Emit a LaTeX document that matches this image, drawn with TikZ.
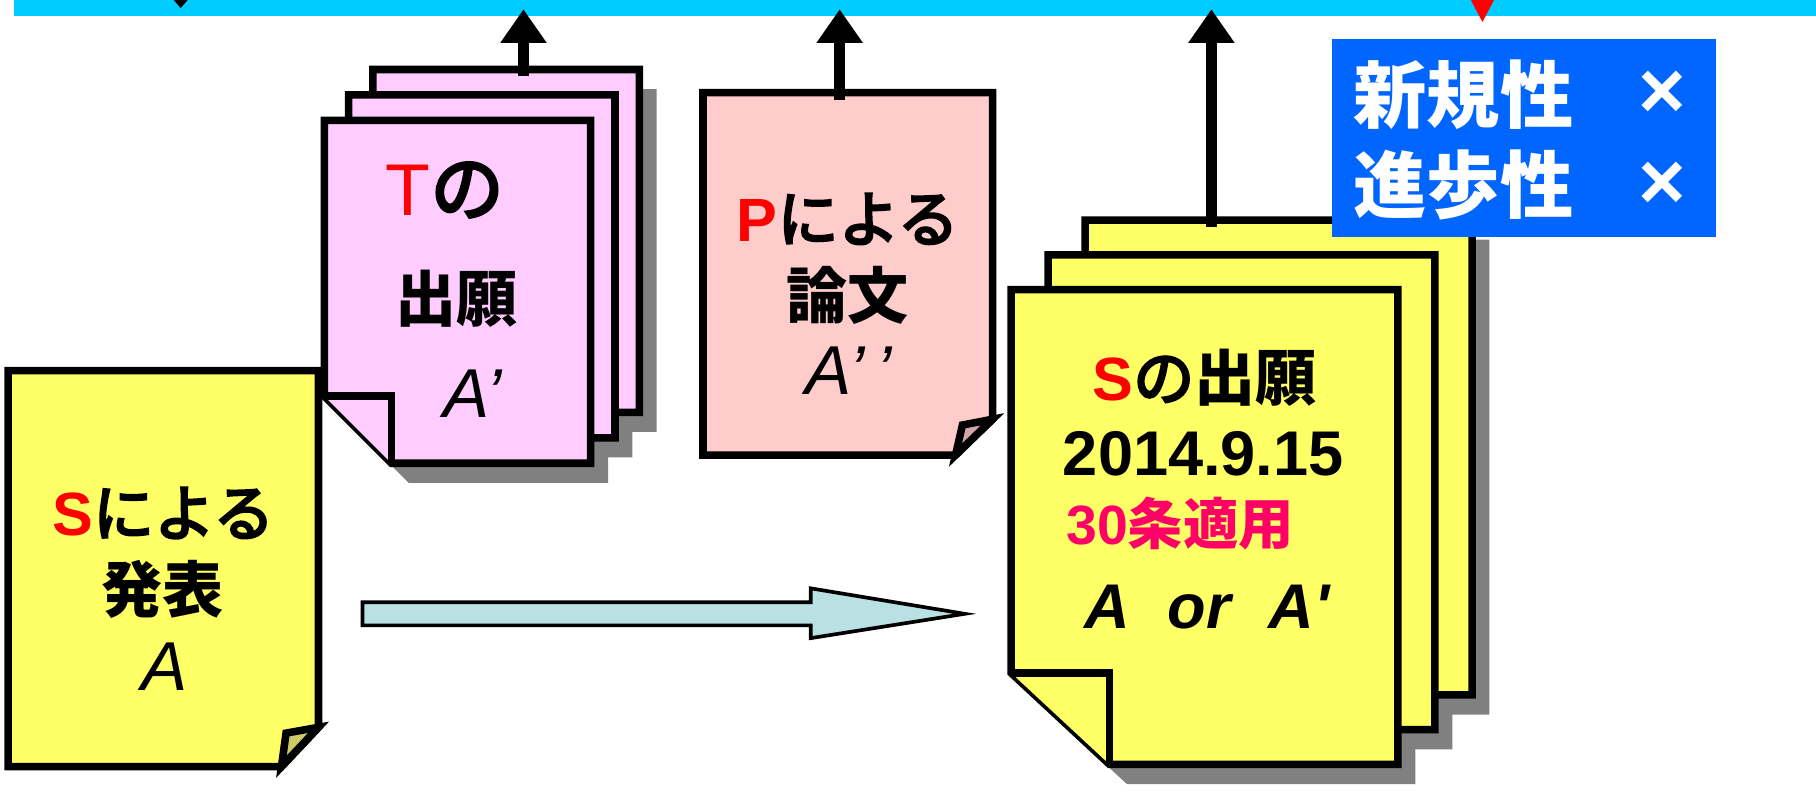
\documentclass[tikz,border=0pt]{standalone}
\usepackage{fontspec}
\setmainfont{Liberation Sans}
\newfontfamily\jp{Noto Sans CJK JP}
\newfontfamily\jpm{Noto Sans CJK JP}[FakeBold=4]
\usetikzlibrary{arrows.meta}
\definecolor{timecyan}{RGB}{0,204,255}
\definecolor{docyellow}{RGB}{255,255,102}
\definecolor{flapyellow}{RGB}{204,204,102}
\definecolor{tpink}{RGB}{255,204,255}
\definecolor{ppink}{RGB}{255,204,204}
\definecolor{flappink}{RGB}{210,165,170}
\definecolor{boxblue}{RGB}{0,102,255}
\definecolor{widecyan}{RGB}{185,224,227}
\definecolor{shadegray}{RGB}{128,128,128}
\definecolor{artred}{RGB}{255,0,102}
\tikzset{
    page/.style={draw=black,line width=1.85pt,line join=miter},
    pageshadow/.style={fill=shadegray},
    uparrow/.style={draw=black,line width=2.8pt,-{Triangle[width=0.38cm,length=0.29cm]}},
    widearrow/.style={draw=black,fill=widecyan,line width=0.9pt,line join=miter},
    doctext/.style={font=\fontsize{15}{18}\selectfont,inner sep=0pt},
    artext/.style={font=\fontsize{17}{20}\selectfont\itshape,inner sep=0pt},
    boxtext/.style={font=\fontsize{18}{22}\selectfont,text=white,inner sep=0pt}
}
\newcommand{\jt}[1]{{\jp\bfseries #1}}
\newcommand{\jl}[1]{{\jpm #1}}
\newcommand{\rs}[1]{\textcolor{red}{\bfseries #1}}

\begin{document}
\begin{tikzpicture}[x=0.01cm,y=-0.01cm]
                            \useasboundingbox (0,0) rectangle (1568,685);
                            \fill[timecyan] (12,0) rectangle (1568,14);
                            \fill[black] (150,0) -- (162,0) -- (156,7) -- cycle;
                            \fill[red] (1270,0) -- (1290,0) -- (1280,19) -- cycle;
                            \foreach \s in {2,1,0}
                                \fill[pageshadow,shift={({21*\s+15},{-22*\s+17})}] (280,104) -- (510,104) -- (510,400) -- (338,400) -- (280,342) -- cycle;
                            \foreach \s in {2,1,0} {
                                \filldraw[page,fill=tpink,shift={({21*\s},{-22*\s})}] (280,104) -- (510,104) -- (510,400) -- (338,400) -- (280,342) -- cycle;
                                \draw[page,fill=tpink,shift={({21*\s},{-22*\s})}] (280,342) -- (338,342) -- (338,400);
                            }
                            \foreach \s in {2,1,0}
                                \fill[pageshadow,shift={({32*\s+15},{-30*\s+17})}] (873,250) -- (1207,250) -- (1207,660) -- (958,660) -- (873,581) -- cycle;
                            \foreach \s in {2,1,0} {
                                \filldraw[page,fill=docyellow,shift={({32*\s},{-30*\s})}] (873,250) -- (1207,250) -- (1207,660) -- (958,660) -- (873,581) -- cycle;
                                \draw[page,fill=docyellow,shift={({32*\s},{-30*\s})}] (873,581) -- (958,581) -- (958,660);
                            }
                            \filldraw[page,fill=ppink] (607,80) -- (857,80) -- (857,362) -- (825,393) -- (607,393) -- cycle;
                            \filldraw[page,fill=flappink] (825,393) -- (831,367) -- (857,362) -- cycle;
                            \filldraw[page,fill=docyellow] (7,320) -- (275,320) -- (275,628) -- (243,662) -- (7,662) -- cycle;
                            \filldraw[page,fill=flapyellow] (243,662) -- (247,633) -- (275,628) -- cycle;
                            \coordinate (tTop) at (452,66);
                            \coordinate (tMark) at (452,8);
                            \coordinate (pTop) at (725,86);
                            \coordinate (pMark) at (725,8);
                            \coordinate (sTop) at (1046,196);
                            \coordinate (sMark) at (1046,8);
                            \draw[uparrow] (tTop) -- (tMark);
                            \draw[uparrow] (pTop) -- (pMark);
                            \draw[uparrow] (sTop) -- (sMark);
                            \coordinate (wTail) at (313,530);
                            \coordinate (wTip) at (833,530);
                            \draw[widearrow] (wTail) ++(0,-10) -- ++(387,0) -- ++(0,-12) -- (wTip) -- ++(-133,21) -- ++(0,-11) -- ++(-387,0) -- cycle;
                            \fill[boxblue] (1150,34) rectangle (1482,205);
                            \node[doctext] (pub1) at (141,443) {\rs{S}\jl{による}};
                            \node[doctext] (pub2) at (140,509) {\jt{発表}};
                            \node[artext] (pub3) at (142,576) {A};
                            \node[doctext,font=\fontsize{18}{22}\selectfont] (tapp1) at (384,164) {\textcolor{red}{T}\jl{の}};
                            \node[doctext] (tapp2) at (394,258) {\jt{出願}};
                            \node[artext] (tapp3) at (408,340) {A’};
                            \node[doctext] (paper1) at (732,189) {\rs{P}\jl{による}};
                            \node[doctext] (paper2) at (732,255) {\jt{論文}};
                            \node[artext] (paper3) at (733,320) {A’\,’};
                            \node[doctext] (sapp1) at (1040,326) {\rs{S}\jl{の}\jt{出願}};
                            \node[doctext,font=\fontsize{15.5}{18}\selectfont\bfseries] (sapp2) at (1039,392) {2014.9.15};
                            \node[doctext,font=\fontsize{13.6}{16}\selectfont,text=artred] (sapp3) at (1019,452) {\bfseries 30\jt{条適用}};
                            \node[doctext,font=\fontsize{15.5}{18}\selectfont\bfseries\itshape] (sapp4) at (1042,524) {A\hspace{0.6em}or\hspace{0.6em}A\textquotesingle};
                            \node[boxtext,anchor=west] (nov) at (1168,82) {\jt{新規性}};
                            \node[boxtext,anchor=west] (inv) at (1168,160) {\jt{進歩性}};
                            \node[boxtext,font=\fontsize{20}{22}\selectfont\bfseries] (novx) at (1435,82) {×};
                            \node[boxtext,font=\fontsize{20}{22}\selectfont\bfseries] (invx) at (1435,160) {×};
                        \end{tikzpicture}
\end{document}
